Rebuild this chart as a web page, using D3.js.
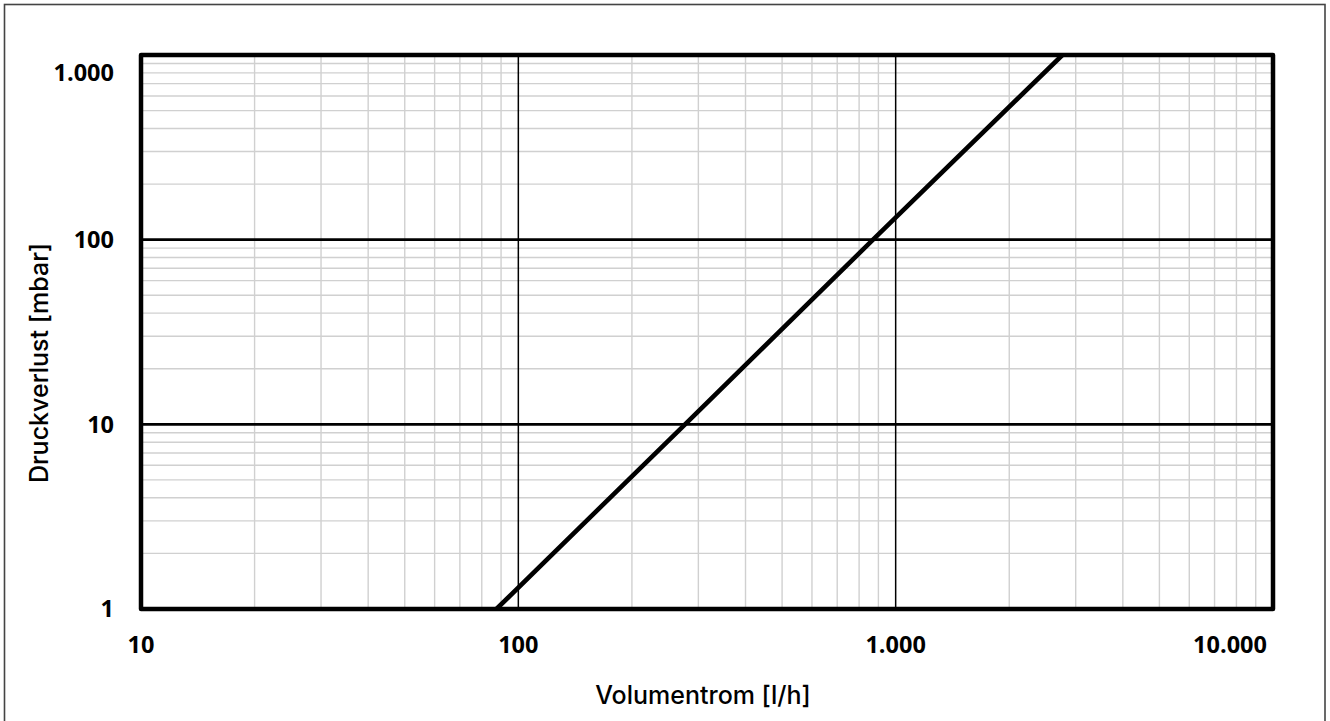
<!DOCTYPE html>
<html>
<head>
<meta charset="utf-8">
<script src="https://cdn.jsdelivr.net/npm/d3@7"></script>
<style>
  html, body { margin: 0; padding: 0; background: #fff; }
  svg { display: block; }
</style>
</head>
<body>
<svg id="chart" width="1330" height="721"></svg>
<script>
// ---- data ----
const flowLh = [87.5, 276.6, 871, 2766];        // Volumentrom [l/h]
const pressureMbar = [1, 10, 100, 1000];        // Druckverlust [mbar]
const xTickValues = [10, 100, 1000, 10000];
const yTickValues = [1, 10, 100, 1000];
const xTitle = "Volumentrom [l/h]";
const yTitle = "Druckverlust [mbar]";

const de = d3.formatLocale({decimal: ",", thousands: ".", grouping: [3], currency: ["", " €"]});
const fmt = de.format(",");

const W = 1330, H = 721;
const plot = {left: 141, right: 1273, top: 55, bottom: 609};

const svg = d3.select("#chart");

// outer frame (bottom edge lies outside the picture)
svg.append("rect")
  .attr("x", 4.5).attr("y", 4.5)
  .attr("width", W - 9.5).attr("height", H + 20)
  .attr("fill", "#fff").attr("stroke", "#444").attr("stroke-width", 1.6);

const x = d3.scaleLog().domain([10, 10000]).range([plot.left, plot.right]);
const y = d3.scaleLog().domain([1, 1000]).range([plot.bottom, plot.top]);

const g = svg.append("g");

// minor grid lines
const xMinor = x.ticks().filter(v => !xTickValues.includes(v));
const yMinor = y.ticks().filter(v => !yTickValues.includes(v));

g.append("g").selectAll("line").data(xMinor).join("line")
  .attr("x1", d => x(d)).attr("x2", d => x(d))
  .attr("y1", plot.top).attr("y2", plot.bottom)
  .attr("stroke", "#d0d0d0").attr("stroke-width", 1.4);

g.append("g").selectAll("line").data(yMinor).join("line")
  .attr("y1", d => y(d)).attr("y2", d => y(d))
  .attr("x1", plot.left).attr("x2", plot.right)
  .attr("stroke", "#d0d0d0").attr("stroke-width", 1.4);

// major grid lines
g.append("g").selectAll("line").data(xTickValues.slice(1, -1)).join("line")
  .attr("x1", d => x(d)).attr("x2", d => x(d))
  .attr("y1", plot.top).attr("y2", plot.bottom)
  .attr("stroke", "#000").attr("stroke-width", 1.5);

g.append("g").selectAll("line").data(yTickValues.slice(1, -1)).join("line")
  .attr("y1", d => y(d)).attr("y2", d => y(d))
  .attr("x1", plot.left).attr("x2", plot.right)
  .attr("stroke", "#000").attr("stroke-width", 2.6);

// clip
svg.append("clipPath").attr("id", "clip")
  .append("rect")
  .attr("x", plot.left).attr("y", plot.top)
  .attr("width", plot.right - plot.left).attr("height", plot.bottom - plot.top);

const pts = flowLh.map((v, i) => [v, pressureMbar[i]]);
const line = d3.line().x(d => x(d[0])).y(d => y(d[1]));

g.append("path")
  .datum(pts)
  .attr("clip-path", "url(#clip)")
  .attr("d", line)
  .attr("fill", "none")
  .attr("stroke", "#000")
  .attr("stroke-width", 4.6);

// plot border
svg.append("rect")
  .attr("x", plot.left).attr("y", plot.top)
  .attr("width", plot.right - plot.left).attr("height", plot.bottom - plot.top)
  .attr("fill", "none").attr("stroke", "#000").attr("stroke-width", 4.5)
  .attr("stroke-linejoin", "round");

// tick labels
const tickFont = "'Open Sans', 'DejaVu Sans', sans-serif";
const xl = svg.append("g").selectAll("text").data(xTickValues).join("text")
  .attr("font-family", tickFont).attr("font-weight", 700).attr("font-size", 23.5)
  .attr("fill", "#000")
  .attr("y", 653)
  .text(d => fmt(d));
xl.each(function(d) {
  const w = this.getComputedTextLength();
  let cx = x(d);
  if (cx + w / 2 > plot.right - 6) cx = plot.right - 6 - w / 2;
  d3.select(this).attr("x", cx).attr("text-anchor", "middle");
});

svg.append("g").selectAll("text").data(yTickValues).join("text")
  .attr("font-family", tickFont).attr("font-weight", 700).attr("font-size", 23.5)
  .attr("fill", "#000")
  .attr("text-anchor", "end")
  .attr("x", 114)
  .attr("y", d => Math.max(y(d), plot.top + 18) + 8.3)
  .text(d => fmt(d));

// axis titles
const titleFont = "Inter, 'Open Sans', sans-serif";
svg.append("text")
  .attr("font-family", titleFont).attr("font-weight", 500).attr("font-size", 25)
  .attr("fill", "#000").attr("text-anchor", "middle")
  .attr("x", 703).attr("y", 704)
  .text(xTitle);

svg.append("text")
  .attr("font-family", titleFont).attr("font-weight", 500).attr("font-size", 25)
  .attr("fill", "#000").attr("text-anchor", "middle")
  .attr("transform", "translate(48,363) rotate(-90)")
  .text(yTitle);
</script>
</body>
</html>
